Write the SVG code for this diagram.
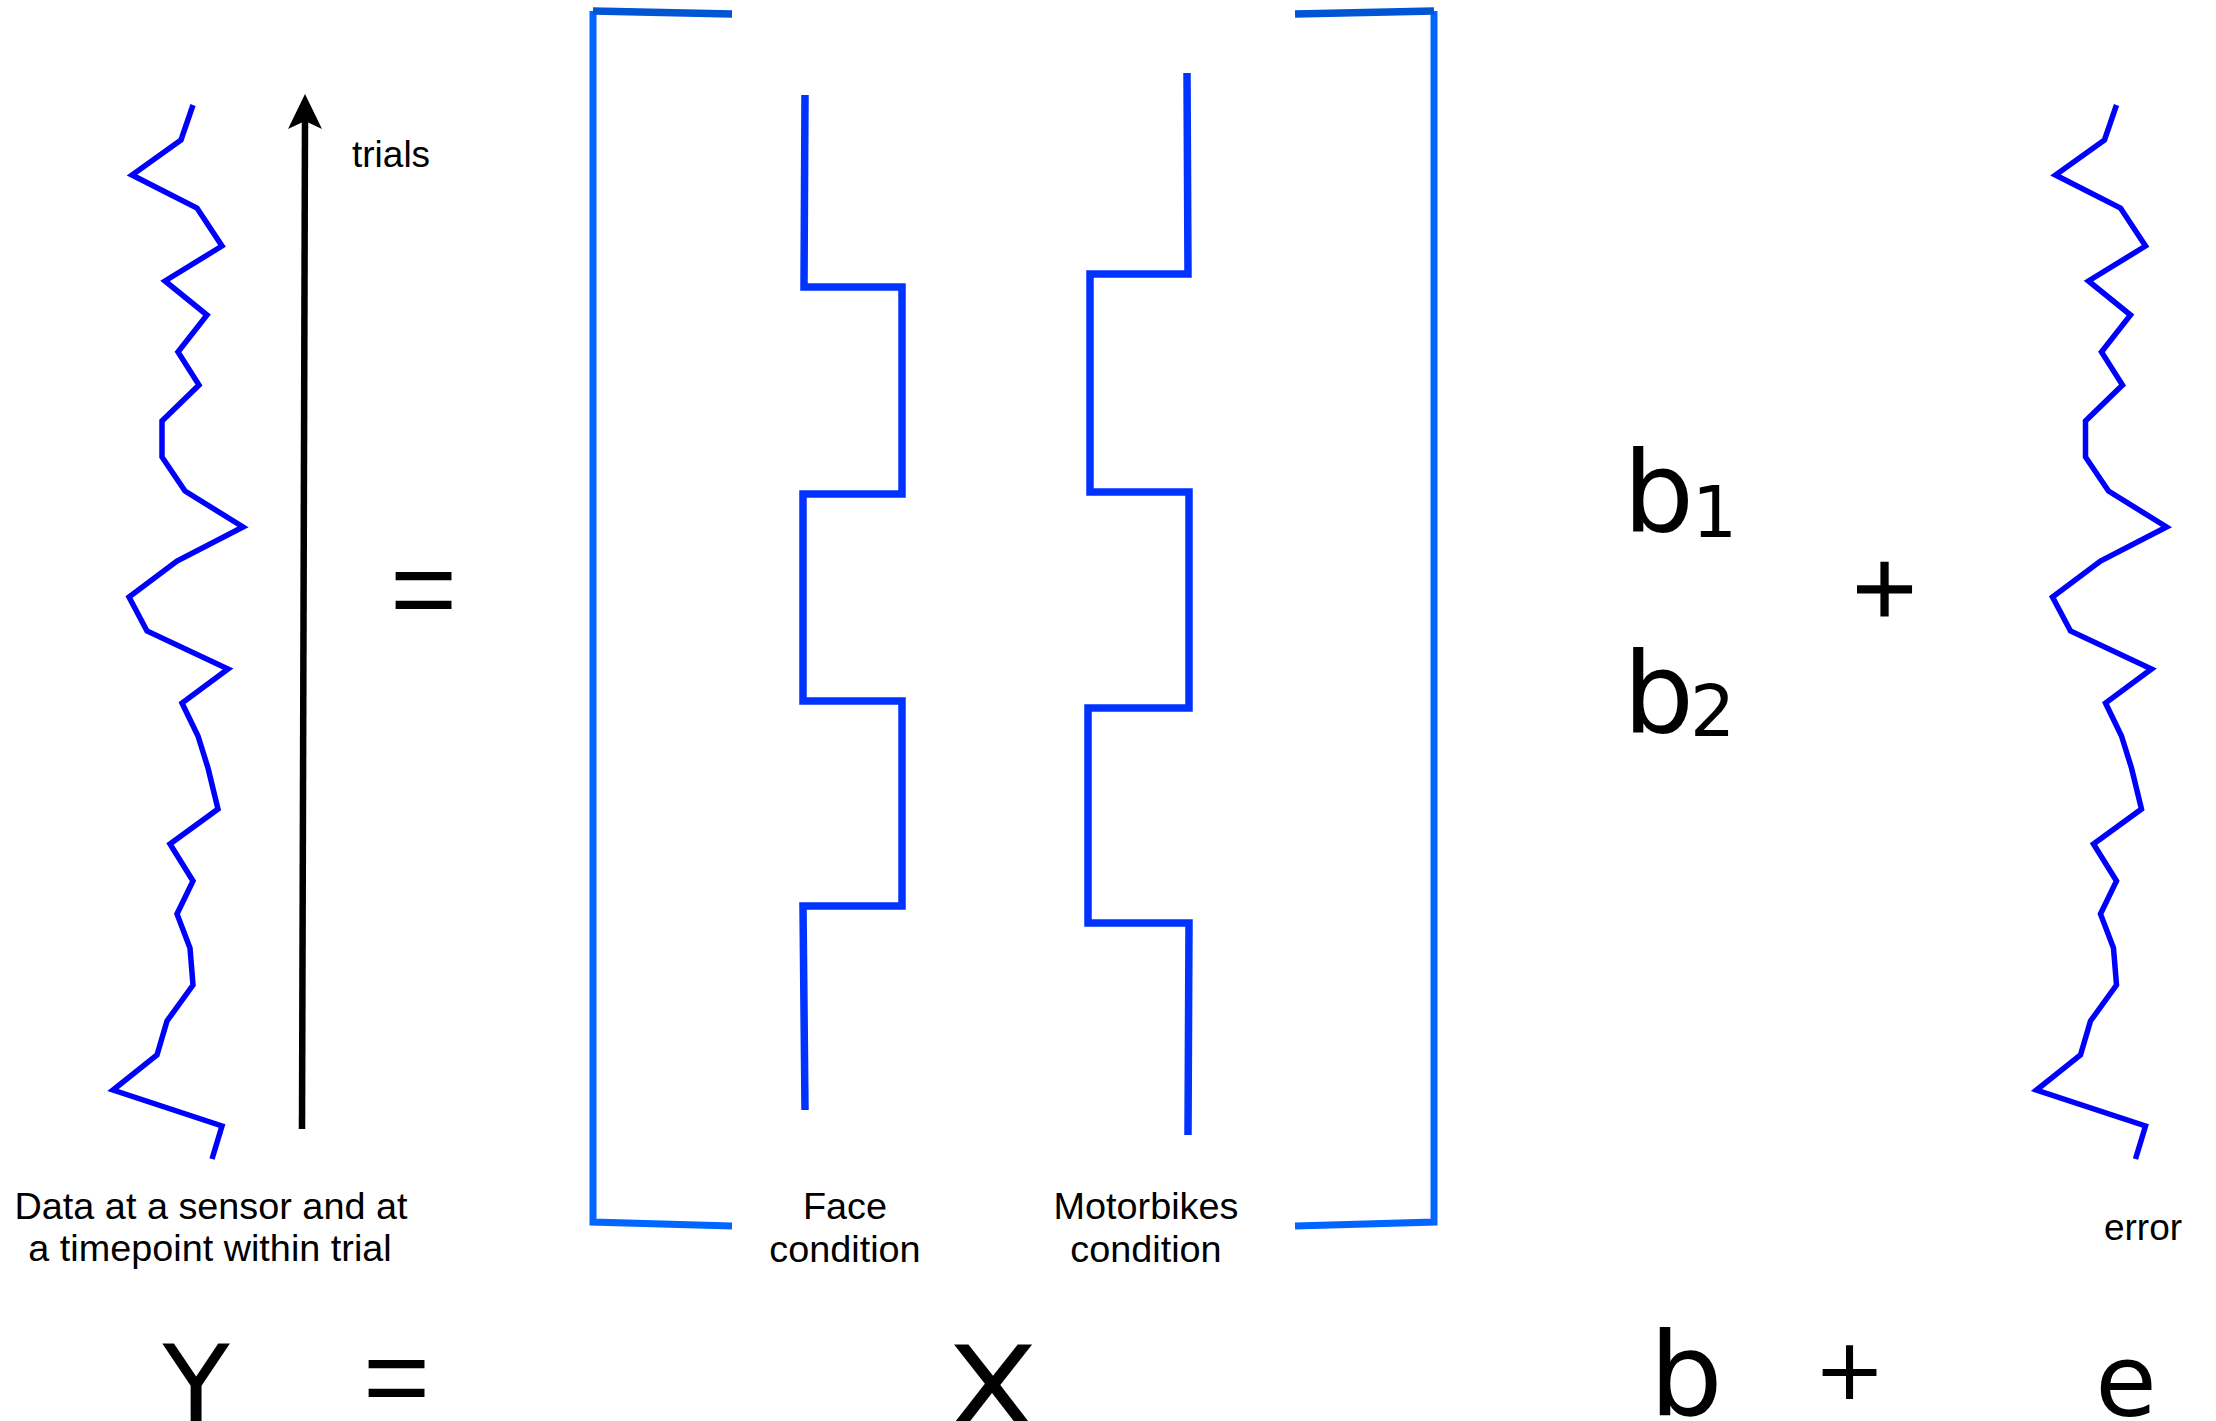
<svg xmlns="http://www.w3.org/2000/svg" xmlns:xlink="http://www.w3.org/1999/xlink" width="2216" height="1421" viewBox="0 0 2216 1421">
  <style>
    .zig { fill: none; stroke: #0000FF; stroke-width: 5.5; stroke-linejoin: miter; stroke-linecap: butt; }
    .step { fill: none; stroke: #0033FF; stroke-width: 7.5; stroke-linejoin: miter; stroke-linecap: butt; }
    .brk { fill: none; stroke: #0066FF; stroke-width: 7; stroke-linejoin: miter; stroke-linecap: butt; }
    .brktop { fill: none; stroke: #0055D5; stroke-width: 7.5; stroke-linecap: butt; }
    .lbl { font-family: "Liberation Sans", Arial, Helvetica, sans-serif; font-size: 37px; fill: #000; }
    .lbl2 { font-family: "Liberation Sans", Arial, Helvetica, sans-serif; font-size: 37.8px; fill: #000; }
    .math { font-family: "DejaVu Sans", Verdana, sans-serif; fill: #000; }
    .plus { font-family: "DejaVu Sans", Verdana, sans-serif; fill: #000; stroke: #000; stroke-width: 1.2; }
    .eq { font-family: "Liberation Sans", Arial, Helvetica, sans-serif; font-size: 115px; fill: #000; }
  </style>
  <defs>
    <path id="zigzag" d="M193,105 L181,140 L132,175 L197,208 L222,246 L165,281 L207,315 L178,352 L199,385 L162,421 L162,457 L185,491 L243,527 L177,561 L129,597 L147,631 L228,669 L182,703 L198,736 L208,768 L218,809 L170,844 L193,881 L177,914 L190,948 L193,985 L167,1021 L157,1055 L113,1090 L222,1126 L212,1159"/>
  </defs>
  <rect width="2216" height="1421" fill="#FFFFFF"/>

  <g id="data-signal">
    <use xlink:href="#zigzag" href="#zigzag" class="zig"/>
    <text class="lbl2" x="211" y="1219" text-anchor="middle">Data at a sensor and at</text>
    <text class="lbl2" x="210" y="1261" text-anchor="middle">a timepoint within trial</text>
  </g>

  <g id="connectors">
    <g id="trials-axis">
      <line x1="302" y1="1129" x2="305" y2="118" stroke="#000" stroke-width="6.5"/>
      <path d="M305,94 L322,129 L305,121 L288,129 Z" fill="#000"/>
    </g>
  </g>
  <g id="trials-label">
    <text class="lbl" x="352" y="167">trials</text>
  </g>

  <g id="equals-top">
    <text class="eq" x="390" y="628">=</text>
  </g>

  <g id="design-matrix">
    <path class="brk" d="M593,11 L593,1222 L732,1226"/>
    <path class="brktop" d="M593,11 L732,14"/>
    <path class="brk" d="M1434,11 L1434,1222 L1295,1226"/>
    <path class="brktop" d="M1434,11 L1295,14"/>
  </g>

  <g id="face-regressor">
    <path class="step" d="M805,95 L804,287 L902,287 L902,494 L803,494 L803,701 L902,701 L902,906 L803,906 L805,1110"/>
    <text class="lbl2" x="845" y="1219" text-anchor="middle">Face</text>
    <text class="lbl2" x="845" y="1262" text-anchor="middle">condition</text>
  </g>

  <g id="motorbikes-regressor">
    <path class="step" d="M1187,73 L1188,274 L1090,274 L1090,492 L1189,492 L1189,708 L1088,708 L1088,923 L1189,923 L1188,1135"/>
    <text class="lbl2" x="1146" y="1219" text-anchor="middle">Motorbikes</text>
    <text class="lbl2" x="1146" y="1262" text-anchor="middle">condition</text>
  </g>

  <g id="betas">
    <text class="math" x="1623" y="531" font-size="112">b</text>
    <text class="math" x="1692" y="537" font-size="71">1</text>
    <text class="math" x="1623" y="732" font-size="112">b</text>
    <text class="math" x="1690" y="736" font-size="71">2</text>
  </g>

  <g id="plus-top">
    <text class="plus" x="1884.5" y="616" font-size="86" text-anchor="middle">+</text>
  </g>

  <g id="error-signal">
    <use xlink:href="#zigzag" href="#zigzag" class="zig" transform="translate(1923.5,0)"/>
    <text class="lbl" x="2143" y="1240" text-anchor="middle">error</text>
  </g>

  <g id="equation">
    <text class="math" x="196" y="1424" font-size="110" text-anchor="middle">Y</text>
    <text class="eq" x="363" y="1416">=</text>
    <text class="math" transform="translate(992,1429) scale(1.18,1)" x="0" y="0" font-size="115" text-anchor="middle">X</text>
    <text class="math" x="1686" y="1415" font-size="116" text-anchor="middle">b</text>
    <text class="math" x="1849.5" y="1399" font-size="86" text-anchor="middle">+</text>
    <text class="math" x="2126" y="1416" font-size="100" text-anchor="middle">e</text>
  </g>
</svg>
